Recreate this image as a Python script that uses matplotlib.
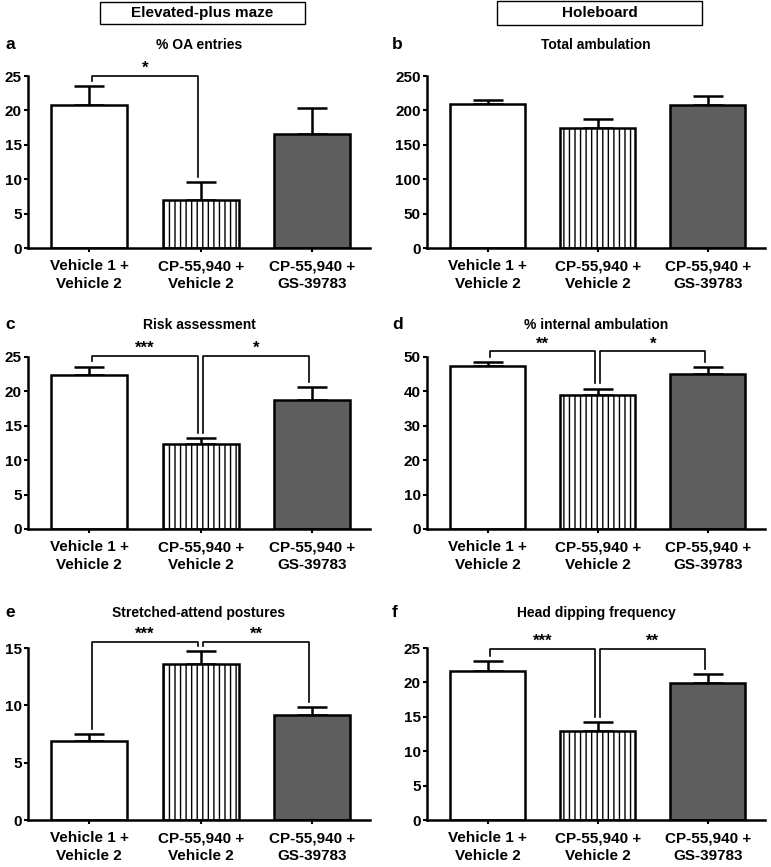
import numpy as np
import matplotlib
matplotlib.use('Agg')
import matplotlib.pyplot as plt
from matplotlib.patches import Rectangle

plt.rcParams['font.family'] = ['Liberation Sans', 'DejaVu Sans']
plt.rcParams['font.weight'] = 'bold'
plt.rcParams['hatch.linewidth'] = 1.0

## Data (means and SEM)
groups = ['Vehicle 1 +\nVehicle 2', 'CP-55,940 +\nVehicle 2', 'CP-55,940 +\nGS-39783']

oa_mean = [20.8, 7.0, 16.6]
oa_sem = [2.7, 2.6, 3.7]
amb_mean = [209, 175, 208.5]
amb_sem = [6, 12, 12]
risk_mean = [22.4, 12.3, 18.7]
risk_sem = [1.2, 0.9, 1.95]
intamb_mean = [47.5, 39.0, 45.2]
intamb_sem = [1.1, 1.8, 1.9]
sap_mean = [6.85, 13.6, 9.15]
sap_sem = [0.62, 1.1, 0.7]
hd_mean = [21.6, 12.95, 19.9]
hd_sem = [1.55, 1.3, 1.3]

titles = ['% OA entries', 'Total ambulation', 'Risk assessment',
          '% internal ambulation', 'Stretched-attend postures', 'Head dipping frequency']
letters = ['a', 'b', 'c', 'd', 'e', 'f']
means = [oa_mean, amb_mean, risk_mean, intamb_mean, sap_mean, hd_mean]
sems = [oa_sem, amb_sem, risk_sem, intamb_sem, sap_sem, hd_sem]
ymax = [25, 250, 25, 50, 15, 25]
ystep = [5, 50, 5, 10, 5, 5]

# significance comparisons: (bar i, bar j, label), bracket height per panel
sig = [[(0, 1, '*')], [], [(0, 1, '***'), (1, 2, '*')], [(0, 1, '**'), (1, 2, '*')],
       [(0, 1, '***'), (1, 2, '**')], [(0, 1, '***'), (1, 2, '**')]]
sig_y = [25.0, None, 25.2, 51.6, 15.55, 24.9]

## Layout (pixels of a 771x867 figure)
W, H = 771., 867.
col_x = [(28, 370), (427, 765)]
row_y = [(76, 248), (357, 529), (648, 820)]
title_gap = [27, 28, 31]

fig = plt.figure(figsize=(W / 100, H / 100), dpi=100)

fills = ['white', 'white', '#5e5e5e']
hatches = [None, '|||', None]
x = np.arange(3)

for k in range(6):
    r, c = k // 2, k % 2
    x0, x1 = col_x[c]
    yt, yb = row_y[r]
    ax = fig.add_axes([x0 / W, 1 - yb / H, (x1 - x0) / W, (yb - yt) / H])
    m = np.array(means[k])
    s = np.array(sems[k])
    ax.errorbar(x, m, yerr=[np.zeros(3), s], fmt='none', ecolor='black',
                elinewidth=1.8, capsize=11, capthick=1.8, zorder=1)
    for i in range(3):
        ax.bar(x[i], m[i], width=0.68, color=fills[i], edgecolor='black',
               linewidth=1.8, hatch=hatches[i], zorder=2)
    ax.set_xlim(-0.55, 2.52)
    ax.set_ylim(0, ymax[k])
    ax.set_yticks(np.arange(0, ymax[k] + 0.1, ystep[k]))
    ax.set_xticks(x)
    ax.set_xticklabels(groups, fontsize=11, fontweight='bold', linespacing=1.35)
    for lab in ax.get_yticklabels():
        lab.set_fontsize(11)
        lab.set_fontweight('bold')
    for sp in ['top', 'right']:
        ax.spines[sp].set_visible(False)
    for sp in ['left', 'bottom']:
        ax.spines[sp].set_linewidth(1.8)
    ax.tick_params(axis='y', length=3, width=1.5, pad=1.5)
    ax.tick_params(axis='x', length=3, width=1.5, pad=5)

    # title and panel letter
    ax.annotate(titles[k], xy=(0.5, 1), xycoords='axes fraction',
                xytext=(0, title_gap[r] * 0.72), textcoords='offset points',
                ha='center', va='baseline', fontsize=10, fontweight='bold')
    fig.text((5 if c == 0 else 392) / W, 1 - (yt - title_gap[r]) / H, letters[k],
             ha='left', va='baseline', fontsize=12.5, fontweight='bold')

    # significance brackets: legs drop to just above the error bars
    tops = m + s
    gap = 0.03 * ymax[k]
    for (i, j, lab) in sig[k]:
        xi = x[i] + 0.025
        xj = x[j] - 0.025
        yi = tops[i] + gap
        yj = tops[j] + gap
        ax.plot([xi, xi, xj, xj], [yi, sig_y[k], sig_y[k], yj], color='black',
                lw=1.2, clip_on=False, zorder=3)
        ax.text((xi + xj) / 2, sig_y[k], lab, ha='center', va='bottom',
                fontsize=12, fontweight='bold')

## Header boxes
for (bx0, bx1, by0, by1, txt) in [(100, 305, 2, 24, 'Elevated-plus maze'),
                                   (497, 702, 1, 25, 'Holeboard')]:
    fig.patches.append(Rectangle((bx0 / W, 1 - by1 / H), (bx1 - bx0) / W, (by1 - by0) / H,
                                 transform=fig.transFigure, fill=False,
                                 edgecolor='black', lw=1.0))
    fig.text((bx0 + bx1) / 2 / W, 1 - (by0 + by1) / 2 / H, txt, ha='center',
             va='center', fontsize=11, fontweight='bold')

fig.savefig('out.png', dpi=100)
